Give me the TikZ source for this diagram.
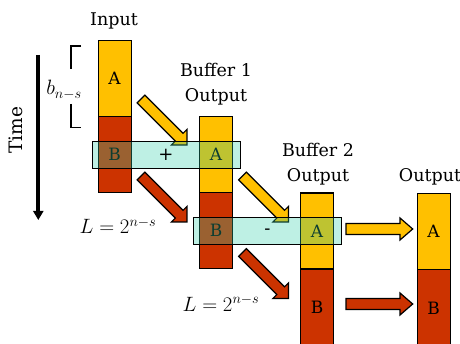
\documentclass[tikz,border=0pt]{standalone}
\usepackage{fontspec}
\setmainfont{DejaVu Serif}
\usetikzlibrary{arrows.meta}
\definecolor{yel}{RGB}{255,192,0}
\definecolor{rd}{RGB}{204,51,0}
\definecolor{cy}{RGB}{40,205,165}
\newcommand\blockarrow[5]{%
  \draw[arrsty, fill=#5, shift={(#1)}, rotate=#2]
    (0,-5.5) -- (#3-#4,-5.5) -- (#3-#4,-11) -- (#3,0) -- (#3-#4,11) -- (#3-#4,5.5) -- (0,5.5) -- cycle;}
\begin{document}
\begin{tikzpicture}[x=1pt,y=-1pt,
  blk/.style={draw=black, line width=1.2pt, minimum width=33pt, minimum height=76pt,
    anchor=north west, inner sep=0pt, font=\fontsize{17}{17}\selectfont},
  lab/.style={font=\fontsize{17.5}{17.5}\selectfont, anchor=base, inner sep=0pt},
  mlab/.style={font=\huge, anchor=base, inner sep=0pt},
  barsty/.style={draw=black, line width=1.2pt, fill=cy, fill opacity=0.3, draw opacity=1,
    text opacity=1, anchor=north west, inner sep=0pt, minimum width=148.3pt, minimum height=26.7pt},
  arrsty/.style={draw=black, line width=1.2pt, line join=miter}]
\useasboundingbox (0,0) rectangle (460,344);
% columns
\node[blk, fill=yel] (inA) at (97.5,40) {A};
\node[blk, fill=rd]  (inB) at (97.5,116) {B};
\node[blk, fill=yel] (b1A) at (199,116) {A};
\node[blk, fill=rd]  (b1B) at (199,192) {B};
\node[blk, fill=yel] (b2A) at (300,192.5) {A};
\node[blk, fill=rd, minimum height=77pt] (b2B) at (300,268.5) {B};
\node[blk, fill=yel] (oA) at (416.5,193) {A};
\node[blk, fill=rd, minimum height=77pt] (oB) at (416.5,269) {B};
% labels
\node[lab] (tIn)  at (114,25.7)  {Input};
\node[lab] (tB1)  at (216,77)    {Buffer 1};
\node[lab] (tB1o) at (216,101.5) {Output};
\node[lab] (tB2)  at (318,156.7) {Buffer 2};
\node[lab] (tB2o) at (318,181.7) {Output};
\node[lab] (tO)   at (430,181.7) {Output};
% time axis
\node[font=\fontsize{18.5}{18.5}\selectfont, rotate=90, inner sep=0pt] (time) at (15.5,130) {Time};
\coordinate (tt) at (38.3,55);
\coordinate (th) at (38.3,220);
\draw[line width=4pt, -{Triangle[length=9pt,width=10pt]}] (tt) -- (th);
% bracket
\draw[line width=1.3pt] (81,46) -- (71,46) -- (71,69.5);
\draw[line width=1.3pt] (71,104) -- (71,127.3) -- (81,127.3);
\node[mlab] (bl) at (64,95) {$b_{\mbox{\Large$n{-}s$}}$};
\node[mlab] (L1) at (118,234) {$L=2^{n-s}$};
\node[mlab] (L2) at (221,311.5) {$L=2^{n-s}$};
% block arrows
\coordinate (ya1) at (141,99);
\coordinate (ra1) at (141,176);
\coordinate (ya2) at (242.5,176);
\coordinate (ra2) at (242.5,252.5);
\coordinate (yh) at (346,229);
\coordinate (rh) at (346,304);
\blockarrow{ya1}{-45}{65}{11}{yel}
\blockarrow{ra1}{-45}{65}{11}{rd}
\blockarrow{ya2}{-45}{65}{11}{yel}
\blockarrow{ra2}{-45}{65}{11}{rd}
\blockarrow{yh}{0}{66.7}{12.7}{yel}
\blockarrow{rh}{0}{66.7}{12.7}{rd}
% transparent bars
\node[barsty] (bar1) at (91.7,141) {};
\node[barsty] (bar2) at (192.7,217.3) {};
\node[font=\fontsize{18}{18}\selectfont, inner sep=0pt] (plus) at (166,155) {+};
\node[font=\fontsize{18}{18}\selectfont, inner sep=0pt] (minus) at (267.3,231.5) {-};
\end{tikzpicture}
\end{document}
